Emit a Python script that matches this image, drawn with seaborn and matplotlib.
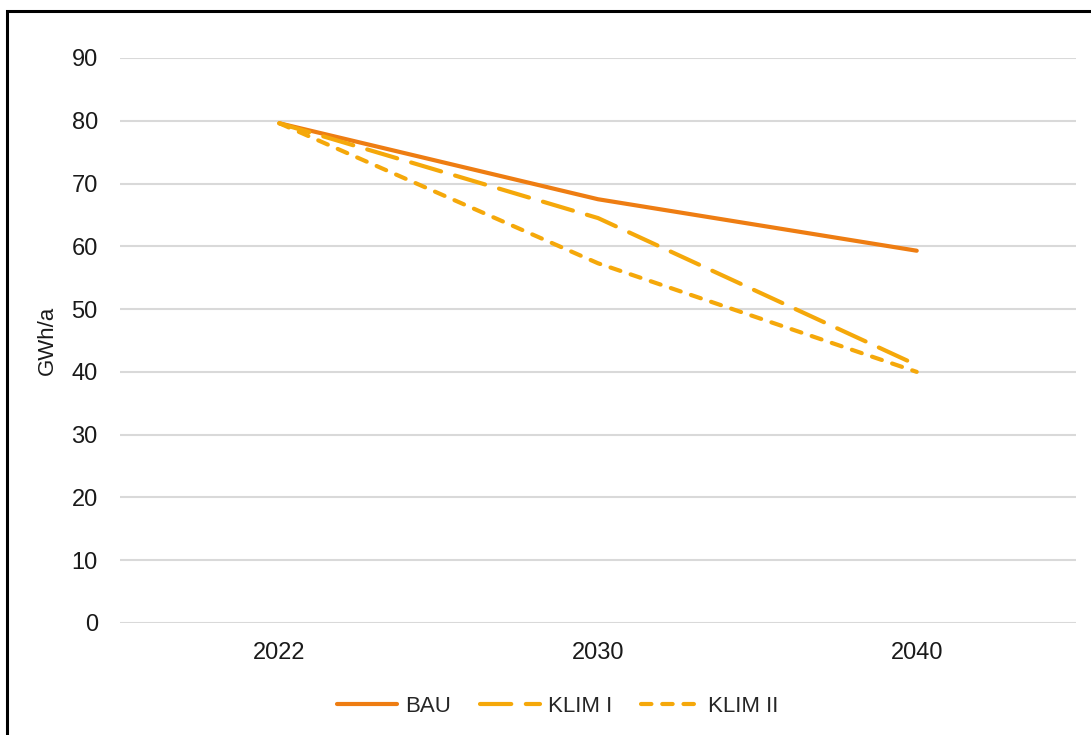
import matplotlib
matplotlib.use("Agg")
import matplotlib.pyplot as plt
import seaborn as sns
import pandas as pd
from matplotlib.patches import Rectangle

# ===============================
# DATA
# ===============================
years = ["2022", "2030", "2040"]
bau = [79.6, 67.5, 59.3]
klim_1 = [79.6, 64.5, 41.1]
klim_2 = [79.6, 57.3, 40.0]
series_names = ["BAU", "KLIM I", "KLIM II"]

df = pd.DataFrame({
    "Jahr": years * 3,
    "Wert": bau + klim_1 + klim_2,
    "Szenario": [s for s in series_names for _ in years],
})

# ===============================
# PLOT
# ===============================
sns.set_theme(style="white")
plt.rcParams["font.family"] = ["Liberation Sans", "DejaVu Sans"]

fig = plt.figure(figsize=(10.91, 7.35), dpi=100)
ax = fig.add_axes([0.110, 0.1524, 0.8763, 0.7687])

palette = {"BAU": "#EE7D12", "KLIM I": "#F5A80A", "KLIM II": "#F5A80A"}
dashes = {"BAU": "", "KLIM I": (7.5, 3.5), "KLIM II": (2.5, 2.6)}

sns.lineplot(data=df, x="Jahr", y="Wert", hue="Szenario", style="Szenario",
             palette=palette, dashes=dashes, linewidth=3.0, ax=ax,
             sort=False, legend=True)

for line in ax.get_lines():
    line.set_dash_capstyle("round")
    line.set_solid_capstyle("round")

ax.set_xlim(-0.5, 2.5)
ax.set_ylim(0, 90)
ax.set_yticks(range(0, 91, 10))
ax.yaxis.grid(True, color="#D9D9D9", linewidth=1.5)
ax.xaxis.grid(False)
for sp in ax.spines.values():
    sp.set_visible(False)
ax.tick_params(axis="both", length=0, labelsize=17, colors="#1A1A1A")
ax.tick_params(axis="y", pad=16)
ax.tick_params(axis="x", pad=14)
ax.set_xlabel("")
ax.set_ylabel("GWh/a", fontsize=16, color="#1A1A1A", labelpad=10)

handles, labels = ax.get_legend_handles_labels()
for h in handles:
    h.set_dash_capstyle("round")
    h.set_solid_capstyle("round")
ax.legend(handles, labels, loc="center", bbox_to_anchor=(558 / 1091, 29 / 735),
          bbox_transform=fig.transFigure, ncol=3, frameon=False, fontsize=16,
          handlelength=2.7, columnspacing=1.3, handletextpad=0.35)

# outer frame (cropped on the right and bottom)
fig.patches.append(Rectangle((7 / 1091, -0.1), 1.2, 1.1 - 11 / 735,
                             transform=fig.transFigure, fill=False,
                             edgecolor="black", linewidth=2.2))

fig.savefig("out.png", dpi=100)
